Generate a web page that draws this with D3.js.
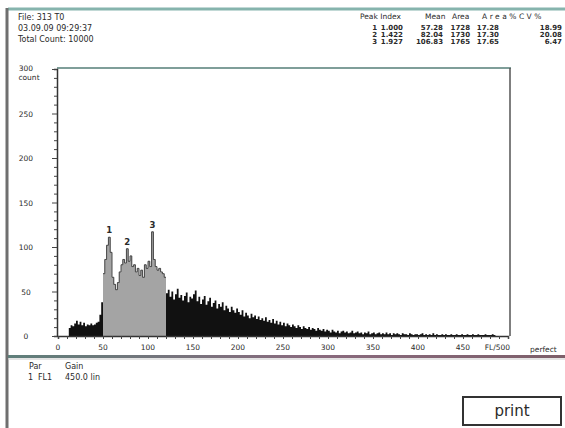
<!DOCTYPE html>
<html>
<head>
<meta charset="utf-8">
<script src="https://cdn.jsdelivr.net/npm/d3@7"></script>
<style>
  html, body { margin: 0; padding: 0; background: #fff; }
  svg { display: block; }
  text { font-family: "DejaVu Sans", "Liberation Sans", sans-serif; fill: #2a2a2a; }
</style>
</head>
<body>
<svg id="chart" width="565" height="428"></svg>
<script>
// FL1 histogram, channel width 2, counts per channel
const channelStart = 0;
const channelWidth = 2;
const counts = [
  // 0 - 98
  0, 0, 0, 0, 0, 0, 9, 12, 11, 14,
  17, 13, 16, 12, 15, 11, 13, 12, 14, 12,
  13, 15, 16, 24, 38, 70, 86, 102, 111, 94,
  66, 58, 52, 60, 72, 80, 86, 82, 98, 84,
  90, 78, 80, 72, 76, 68, 74, 66, 80, 76,
  // 100 - 198
  84, 78, 117, 86, 78, 74, 76, 72, 70, 66,
  48, 52, 44, 50, 41, 47, 53, 43, 46, 40,
  45, 49, 38, 44, 42, 47, 51, 39, 44, 36,
  41, 45, 35, 39, 43, 33, 37, 40, 31, 36,
  33, 38, 29, 34, 31, 27, 33, 29, 26, 31,
  // 200 - 298
  27, 24, 29, 22, 26, 23, 20, 25, 21, 23,
  19, 22, 18, 20, 17, 21, 16, 18, 15, 19,
  14, 17, 13, 16, 12, 15, 11, 14, 12, 10,
  13, 11, 9, 12, 10, 8, 11, 9, 8, 10,
  7, 9, 8, 6, 9, 7, 6, 8, 5, 7,
  // 300 - 398
  6, 4, 7, 5, 4, 6, 3, 5, 6, 4,
  5, 3, 4, 6, 3, 4, 5, 3, 4, 2,
  4, 3, 5, 2, 3, 4, 2, 3, 4, 2,
  3, 2, 4, 2, 3, 1, 3, 2, 3, 2,
  1, 3, 2, 2, 1, 3, 2, 1, 2, 2,
  // 400 - 498
  1, 2, 3, 1, 2, 1, 2, 1, 3, 1,
  2, 1, 1, 2, 1, 2, 1, 1, 2, 1,
  1, 2, 1, 1, 2, 1, 1, 2, 1, 1,
  2, 1, 1, 2, 1, 1, 1, 2, 1, 1,
  1, 2, 1, 0, 0, 0, 0, 0, 0, 0
];
// gated region (drawn in grey)
const gate = [50, 120];
// peaks found in the gate
const peakLabels = ["1", "2", "3"];
const peakChannels = [56, 76, 104];
const peakCounts = [111, 98, 117];

const yTicks = [0, 50, 100, 150, 200, 250, 300];
const xTicks = [0, 50, 100, 150, 200, 250, 300, 350, 400, 450];
const xEndLabel = "FL/500";

const headerLeft = ["File: 313 T0", "03.09.09  09:29:37", "Total Count:   10000"];
const tableHead = ["Peak Index", "Mean", "Area", "Area%CV%"];
const tableRows = [
  ["1", "1.000", "57.28", "1728", "17.28", "18.99"],
  ["2", "1.422", "82.04", "1730", "17.30", "20.08"],
  ["3", "1.927", "106.83", "1765", "17.65", "6.47"]
];
const paramHead = ["Par", "Gain"];
const paramRow = ["1", "FL1", "450.0 lin"];

const svg = d3.select("#chart");

const x = d3.scaleLinear().domain([0, 500]).range([58, 508]);
const y = d3.scaleLinear().domain([0, 300]).range([336, 69]);

// outer window frame
svg.append("line").attr("x1", 8).attr("x2", 565).attr("y1", 9).attr("y2", 9)
  .attr("stroke", "#86b4ad").attr("stroke-width", 3);
svg.append("line").attr("x1", 7).attr("x2", 7).attr("y1", 8).attr("y2", 428)
  .attr("stroke", "#6f6f6f").attr("stroke-width", 3);

// separator between plot and parameter panel
const sepGrad = svg.append("defs").append("linearGradient").attr("id", "sep");
sepGrad.append("stop").attr("offset", "0%").attr("stop-color", "#5f7f7a");
sepGrad.append("stop").attr("offset", "55%").attr("stop-color", "#8a6a7e");
sepGrad.append("stop").attr("offset", "100%").attr("stop-color", "#7d5f6a");
svg.append("rect").attr("x", 8).attr("y", 355).attr("width", 557).attr("height", 3)
  .attr("fill", "url(#sep)");
svg.append("line").attr("x1", 8).attr("x2", 565).attr("y1", 359).attr("y2", 359)
  .attr("stroke", "#c9c9c9").attr("stroke-width", 1);

// header text
svg.append("g").selectAll("text").data(headerLeft).join("text")
  .attr("x", 18).attr("y", (d, i) => 19.5 + i * 11)
  .attr("font-size", 8).text(d => d);

// peak table
const headX = [360, 425, 452, 482];
svg.append("g").selectAll("text").data(tableHead).join("text")
  .attr("x", (d, i) => headX[i]).attr("y", 19).attr("font-size", 7.5)
  .attr("letter-spacing", (d, i) => i === 3 ? 2.5 : 0)
  .text(d => d);
const rowColX = [377, 403, 443, 470, 499, 562];
const rowsG = svg.append("g");
tableRows.forEach((row, r) => {
  rowsG.append("g").selectAll("text").data(row).join("text")
    .attr("x", (d, i) => rowColX[i]).attr("y", 29.5 + r * 7)
    .attr("text-anchor", "end").attr("font-size", 7).attr("font-weight", "bold")
    .text(d => d);
});

// histogram
const bins = counts.map((v, i) => ({ c: channelStart + i * channelWidth, v }));
const withEnd = arr => arr.concat([{ c: arr[arr.length - 1].c + channelWidth, v: arr[arr.length - 1].v }]);
const area = d3.area().curve(d3.curveStepAfter)
  .x(d => x(d.c)).y0(y(0)).y1(d => y(d.v));
svg.append("path").datum(withEnd(bins)).attr("d", area).attr("fill", "#111");

const gated = bins.filter(d => d.c >= gate[0] && d.c < gate[1]);
svg.append("path").datum(withEnd(gated)).attr("d", area).attr("fill", "#a4a4a4");
const stepLine = d3.line().curve(d3.curveStepAfter).x(d => x(d.c)).y(d => y(d.v));
svg.append("path").datum(withEnd(gated))
  .attr("d", stepLine).attr("fill", "none").attr("stroke", "#4a4a4a").attr("stroke-width", 1);

// peak markers
svg.append("g").selectAll("text").data(peakLabels).join("text")
  .attr("x", (d, i) => x(peakChannels[i] + 1))
  .attr("y", (d, i) => y(peakCounts[i]) - 4)
  .attr("text-anchor", "middle").attr("font-size", 8.5).attr("font-weight", "bold")
  .text(d => d);

// plot frame
svg.append("line").attr("x1", 57).attr("x2", 511).attr("y1", 68).attr("y2", 68)
  .attr("stroke", "#7f9e99").attr("stroke-width", 2);
svg.append("line").attr("x1", 510).attr("x2", 510).attr("y1", 68).attr("y2", 336)
  .attr("stroke", "#555").attr("stroke-width", 1.5);

// y axis
const yAxis = d3.axisLeft(y).tickValues(d3.range(0, 301, 10))
  .tickSize(3).tickFormat("");
const gy = svg.append("g").attr("transform", "translate(57,0)").call(yAxis);
gy.select(".domain").attr("stroke", "#333").attr("stroke-width", 1.5);
gy.selectAll(".tick line").attr("stroke", "#444")
  .attr("x2", d => d % 50 === 0 ? -5 : -3);
svg.append("g").selectAll("text").data(yTicks).join("text")
  .attr("x", 26).attr("y", d => y(d) + (d === 300 ? 2 : 3))
  .attr("text-anchor", "middle").attr("font-size", 7.5).text(d => d);
svg.append("text").attr("x", 29).attr("y", y(300) + 11)
  .attr("text-anchor", "middle").attr("font-size", 7.5).text("count");

// x axis
const xAxis = d3.axisBottom(x).tickValues(d3.range(0, 501, 10))
  .tickSize(3).tickFormat("");
const gx = svg.append("g").attr("transform", "translate(0,336)").call(xAxis);
gx.select(".domain").attr("stroke", "#333").attr("stroke-width", 1.5);
gx.selectAll(".tick line").attr("stroke", "#444");
svg.append("g").selectAll("text").data(xTicks).join("text")
  .attr("x", d => x(d)).attr("y", 350)
  .attr("text-anchor", "middle").attr("font-size", 7.5).text(d => d);
svg.append("text").attr("x", x(500) + 2).attr("y", 350)
  .attr("text-anchor", "end").attr("font-size", 7.5).text(xEndLabel);
svg.append("text").attr("x", 530).attr("y", 352).attr("font-size", 7.5).text("perfect");

// parameter panel
svg.append("g").selectAll("text").data(paramHead).join("text")
  .attr("x", (d, i) => [29, 65][i]).attr("y", 369).attr("font-size", 8).text(d => d);
svg.append("g").selectAll("text").data(paramRow).join("text")
  .attr("x", (d, i) => [28, 38, 65][i]).attr("y", 380).attr("font-size", 8).text(d => d);

// print button
svg.append("rect").attr("x", 463).attr("y", 397).attr("width", 98).attr("height", 28)
  .attr("fill", "#fff").attr("stroke", "#333").attr("stroke-width", 2);
svg.append("text").attr("x", 512).attr("y", 416).attr("text-anchor", "middle")
  .attr("font-size", 15).attr("fill", "#222").text("print");
</script>
</body>
</html>
